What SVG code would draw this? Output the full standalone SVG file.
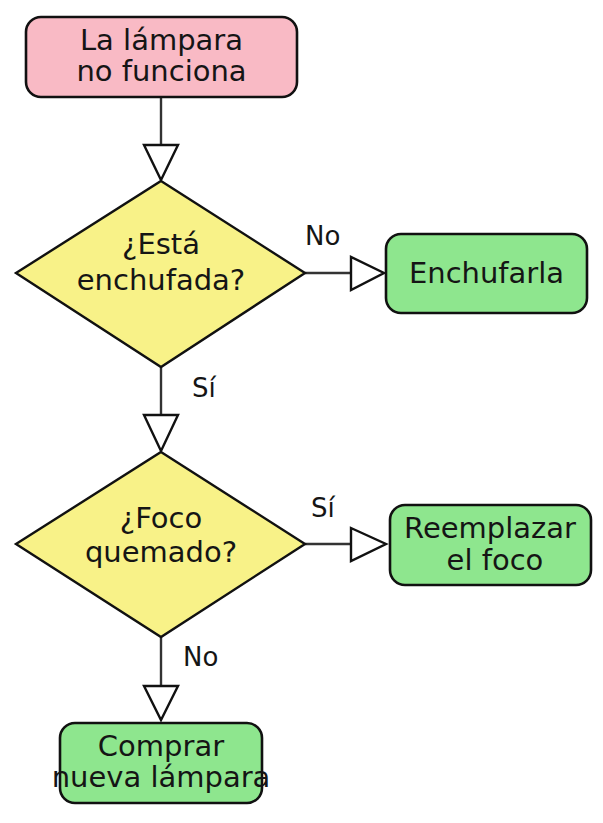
<svg xmlns="http://www.w3.org/2000/svg" width="603" height="823" viewBox="0 0 603 823">
<style>
  .box { stroke: #111; stroke-width: 2.6; }
  .start { fill: #f9bac5; }
  .act { fill: #8ee68e; }
  .dec { fill: #f8f288; stroke: #111; stroke-width: 2.4; }
  .t { font-family: "DejaVu Sans", sans-serif; font-size: 29px; fill: #151515; text-anchor: middle; }
  .lbl { font-family: "DejaVu Sans", sans-serif; font-size: 26px; fill: #151515; }
  .line { stroke: #333; stroke-width: 2.4; fill: none; }
  .head { fill: #fff; stroke: #111; stroke-width: 2.4; stroke-linejoin: miter; }
</style>
<rect width="603" height="823" fill="#fff"/>
<g id="connectors">
  <line class="line" x1="161" y1="97" x2="161" y2="145"/>
  <polygon class="head" points="144,145 178,145 161,180"/>
  <line class="line" x1="305" y1="273" x2="351" y2="273"/>
  <polygon class="head" points="351,257 351,290 384,273"/>
  <text class="lbl" x="305" y="245">No</text>
  <line class="line" x1="161" y1="367" x2="161" y2="415"/>
  <polygon class="head" points="144,415 178,415 161,451"/>
  <text class="lbl" x="192" y="397">Sí</text>
  <line class="line" x1="305" y1="544" x2="351" y2="544"/>
  <polygon class="head" points="351,528 351,561 386,544"/>
  <text class="lbl" x="311" y="517">Sí</text>
  <line class="line" x1="161" y1="637" x2="161" y2="686"/>
  <polygon class="head" points="144,686 178,686 161,720"/>
  <text class="lbl" x="183" y="666">No</text>
</g>
<g id="start">
  <rect class="box start" x="26" y="17" width="271" height="80" rx="15" ry="15"/>
  <text class="t" x="161.5" y="50">La lámpara</text>
  <text class="t" x="161.5" y="81">no funciona</text>
</g>
<g id="dec1">
  <polygon class="dec" points="161,181 305,273 161,367 16,273"/>
  <text class="t" x="161" y="254">¿Está</text>
  <text class="t" x="161" y="290">enchufada?</text>
</g>
<g id="plug">
  <rect class="box act" x="386" y="234" width="201" height="79" rx="15" ry="15"/>
  <text class="t" x="486.5" y="283">Enchufarla</text>
</g>
<g id="dec2">
  <polygon class="dec" points="161,452 305,544 161,637 16,544"/>
  <text class="t" x="161" y="528">¿Foco</text>
  <text class="t" x="161" y="562">quemado?</text>
</g>
<g id="replace">
  <rect class="box act" x="390" y="505" width="201" height="80" rx="15" ry="15"/>
  <text class="t" x="490" y="538">Reemplazar</text>
  <text class="t" x="495" y="570">el foco</text>
</g>
<g id="buy">
  <rect class="box act" x="60" y="723" width="202" height="80" rx="15" ry="15"/>
  <text class="t" x="161" y="756">Comprar</text>
  <text class="t" x="161" y="787">nueva lámpara</text>
</g>
</svg>
